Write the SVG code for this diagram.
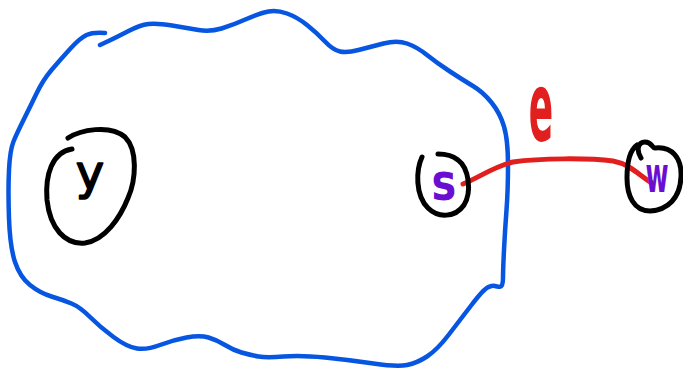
<svg xmlns="http://www.w3.org/2000/svg" width="683" height="371" viewBox="0 0 683 371">
<style>
.blob{fill:none;stroke:#0656e2;stroke-width:4.5;stroke-linecap:round;stroke-linejoin:round}
.ring{fill:none;stroke:#000;stroke-width:5;stroke-linecap:round;stroke-linejoin:round}
.edge{fill:none;stroke:#e21f1f;stroke-width:5;stroke-linecap:round;stroke-linejoin:round}
.lbl{font-family:"DejaVu Sans","Liberation Sans",sans-serif;text-anchor:middle}
.black{fill:#000}
.purple{fill:#6a0fd2}
.red{fill:#e21f1f}
</style>
<rect width="683" height="371" fill="#fff"/>
<g id="set-S">
<path class="blob" d="M100,45 L108.5,41 Q117,37 128.5,31 Q140,25 148.5,24 Q157,23 172,25.5 Q187,28 198.5,30 Q210,32 221.5,28.5 Q233,25 246.5,19 Q260,13 268.5,11.5 Q277,10 287,13.5 Q297,17 307,25 Q317,33 325,41.5 Q333,50 340,51.5 Q347,53 358.5,50 Q370,47 383.5,43.5 Q397,40 407,43.5 Q417,47 427,55 Q437,63 450,71.5 Q463,80 473,86 Q483,92 491.5,102.5 Q500,113 504,126.5 Q508,140 508,165 Q508,190 506.5,210 Q505,230 504,250 Q503,270 503,278 Q503,286 500.5,286.5 Q498,287 495,286 Q492,285 487.5,287.5 Q483,290 471.5,305 Q460,320 448.5,335 Q437,350 427,356.5 Q417,363 407,365 Q397,367 373.5,363.5 Q350,360 325,357.5 Q300,355 283.5,356.5 Q267,358 258.5,356.5 Q250,355 241.5,352.5 Q233,350 225,345 Q217,340 208.5,337.5 Q200,335 186.5,337.5 Q173,340 160,345 Q147,350 137,348.5 Q127,347 113.5,337 Q100,327 90,317 Q80,307 71.5,303.5 Q63,300 51.5,296.5 Q40,293 30,285 Q20,277 15,262 Q10,247 9,218.5 Q8,190 9,170 Q10,150 13.5,141.5 Q17,133 23.5,120 Q30,107 36.5,93.5 Q43,80 51.5,70 Q60,60 70,49 Q80,38 86.5,35 Q93,32 105,33"/>
</g>
<g id="connectors">
<path id="edge-s-w" class="edge" d="M463,184 C480,177 495,166 513,162 C540,158 590,158 613,161 C630,164 640,176 652,183"/>
<text class="lbl red" font-size="40" font-weight="bold" transform="translate(541,141) scale(0.9,2.4)">e</text>
</g>
<g id="node-y">
<path class="ring" d="M68,138 C80,130 110,124 125,137 C138,150 136,180 128,198 C120,218 105,240 85,243 C65,245 50,228 47,200 C45,175 52,152 72,149"/>
<text class="lbl black" x="90" y="189" font-size="48" stroke="#000" stroke-width="1.6" stroke-linejoin="round">y</text>
</g>
<g id="node-s">
<path class="ring" d="M422,157 C416,170 415,195 428,208 C438,218 455,218 464,205 C472,192 469,168 458,160 C452,155 445,154 438,154"/>
<text class="lbl purple" font-size="52" font-weight="bold" transform="translate(444,200) scale(0.8,1)">s</text>
</g>
<g id="node-w">
<path class="ring" d="M641,158 C636,150 638,142 645,142 C652,142 652,148 655,148 C672,146 682,158 681,177 C680,198 668,210 650,211 C634,211 627,196 627,178 C627,162 630,150 637,145"/>
<text class="lbl purple" font-size="50" font-weight="bold" transform="translate(657,192) scale(0.5,1)">w</text>
</g>
</svg>
